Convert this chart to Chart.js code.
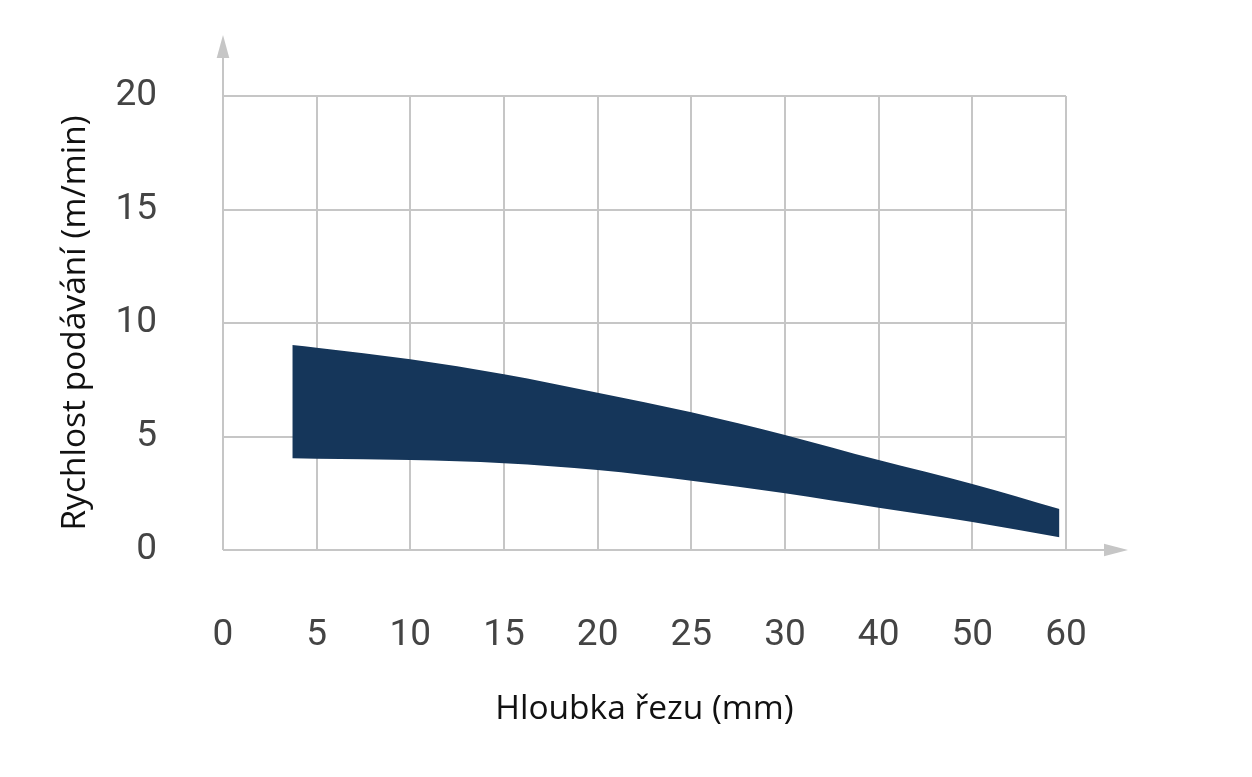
<!DOCTYPE html>
<html>
<head>
<meta charset="utf-8">
<script src="https://cdn.jsdelivr.net/npm/chart.js@4/dist/chart.umd.min.js"></script>
<style>
  html, body { margin: 0; padding: 0; background: #ffffff; }
  #wrap { width: 1252px; height: 777px; }
</style>
</head>
<body>
<div id="wrap"><canvas id="c" width="1252" height="777"></canvas></div>
<script>
// X tick labels (mm) – equally spaced categories on the axis
const xTickLabels = [0, 5, 10, 15, 20, 25, 30, 40, 50, 60];
const yTickValues = [0, 5, 10, 15, 20];

// Band data
const depthMm   = [3.7, 5, 10, 15, 20, 25, 30, 40, 50, 59.3];
const upperSpeed = [9.03, 8.91, 8.40, 7.74, 6.93, 6.07, 5.07, 3.96, 2.91, 1.81];
const lowerSpeed = [4.04, 4.02, 3.96, 3.82, 3.52, 3.05, 2.50, 1.86, 1.23, 0.56];

const xTitle = 'Hloubka řezu (mm)';
const yTitle = 'Rychlost podávání (m/min)';

// map mm to position on the equally spaced axis
function toPos(mm) {
  for (let i = 0; i < xTickLabels.length - 1; i++) {
    const a = xTickLabels[i], b = xTickLabels[i + 1];
    if (mm <= b) return i + (mm - a) / (b - a);
  }
  return xTickLabels.length - 1;
}

const upperPts = depthMm.map((m, i) => ({ x: toPos(m), y: upperSpeed[i] }));
const lowerPts = depthMm.map((m, i) => ({ x: toPos(m), y: lowerSpeed[i] }));

const GRID = '#c6c6c6';
const BAND = '#15365a';

const arrowPlugin = {
  id: 'arrows',
  afterDraw(chart) {
    const { ctx, chartArea } = chart;
    const { left, right, top, bottom } = chartArea;
    ctx.save();
    ctx.strokeStyle = GRID;
    ctx.fillStyle = GRID;
    ctx.lineWidth = 2;
    // vertical axis extension + arrow
    ctx.beginPath();
    ctx.moveTo(left, bottom);
    ctx.lineTo(left, top - 40);
    ctx.stroke();
    ctx.beginPath();
    ctx.moveTo(left, top - 61);
    ctx.lineTo(left - 6.3, top - 38);
    ctx.lineTo(left + 6.3, top - 38);
    ctx.closePath();
    ctx.fill();
    // horizontal axis extension + arrow
    ctx.beginPath();
    ctx.moveTo(left, bottom);
    ctx.lineTo(right + 40, bottom);
    ctx.stroke();
    ctx.beginPath();
    ctx.moveTo(right + 62, bottom);
    ctx.lineTo(right + 38, bottom - 6.2);
    ctx.lineTo(right + 38, bottom + 6.2);
    ctx.closePath();
    ctx.fill();
    ctx.restore();
  }
};

new Chart(document.getElementById('c'), {
  type: 'line',
  data: {
    datasets: [
      {
        label: 'max',
        data: upperPts,
        borderWidth: 0,
        borderColor: BAND,
        backgroundColor: BAND,
        pointRadius: 0,
        fill: '+1',
        cubicInterpolationMode: 'monotone'
      },
      {
        label: 'min',
        data: lowerPts,
        borderWidth: 0,
        borderColor: BAND,
        backgroundColor: BAND,
        pointRadius: 0,
        fill: false,
        cubicInterpolationMode: 'monotone'
      }
    ]
  },
  options: {
    responsive: false,
    animation: false,
    layout: { padding: { left: 0, top: 96, right: 186, bottom: 0 } },
    plugins: { legend: { display: false }, tooltip: { enabled: false } },
    scales: {
      x: {
        type: 'linear',
        min: 0,
        max: xTickLabels.length - 1,
        z: 1,
        afterFit(scale) { scale.height = 227; },
        grid: { color: GRID, lineWidth: 2, drawTicks: false },
        border: { display: false },
        ticks: {
          stepSize: 1,
          padding: 64,
          color: '#444444',
          font: { family: 'Roboto', size: 37 },
          maxRotation: 0,
          callback: (v) => xTickLabels[v]
        },
        title: {
          display: true,
          text: xTitle,
          color: '#111111',
          font: { family: 'Open Sans', size: 33.5 },
          padding: { top: 0, bottom: 47 }
        }
      },
      y: {
        type: 'linear',
        min: yTickValues[0],
        max: yTickValues[yTickValues.length - 1],
        z: 1,
        afterFit(scale) { scale.width = 223; },
        afterBuildTicks(scale) { scale.ticks = yTickValues.map(v => ({ value: v })); },
        grid: { color: GRID, lineWidth: 2, drawTicks: false },
        border: { display: false },
        ticks: {
          padding: 66,
          color: '#444444',
          font: { family: 'Roboto', size: 37 }
        },
        title: {
          display: true,
          text: yTitle,
          color: '#111111',
          font: { family: 'Open Sans', size: 33.5 },
          padding: { top: 55, bottom: 0 }
        }
      }
    }
  },
  plugins: [arrowPlugin]
});
</script>
</body>
</html>
